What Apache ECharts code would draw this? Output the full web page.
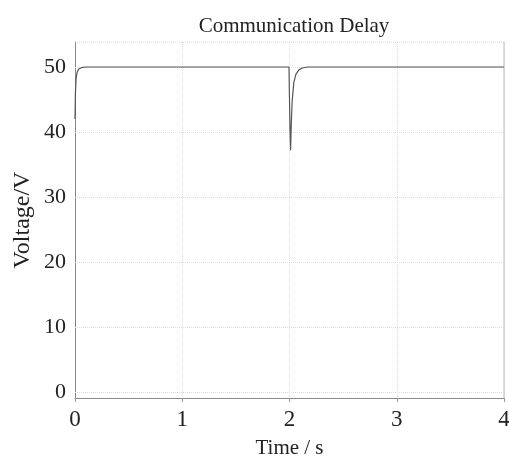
<!DOCTYPE html>
<html><head><meta charset="utf-8">
<script src="https://cdn.jsdelivr.net/npm/echarts@6/dist/echarts.min.js"></script>
<style>html,body{margin:0;padding:0;background:#fff}#c{width:509px;height:462px}</style>
</head><body><div id="c"></div>
<script>
const timeS = [0, 0.004, 0.01, 0.02, 0.035, 0.06, 0.1, 0.15, 1.995, 2.0, 2.004, 2.01, 2.016, 2.025, 2.04, 2.06, 2.09, 2.12, 2.17, 4.0];
const voltage = [42, 46, 48.2, 49.2, 49.7, 49.9, 50, 50, 50, 50, 41, 37.2, 41, 44.8, 47.6, 48.9, 49.6, 49.85, 50, 50];
const xTicks = [0, 1, 2, 3, 4];
const yTicks = [0, 10, 20, 30, 40, 50];
const FONT = 'Liberation Serif';
const chart = echarts.init(document.getElementById('c'));
chart.setOption({
  animation: false,
  title: {text: 'Communication Delay', left: 289, top: 11, textAlign: 'center',
    textStyle: {fontFamily: FONT, fontSize: 21, fontWeight: 'normal', color: '#222'}},
  grid: {left: 75, right: 5, top: 42, bottom: 64, outerBoundsMode: 'none', containLabel: false},
  xAxis: {type: 'value', min: 0, max: 4, interval: 1,
    name: 'Time / s', nameLocation: 'middle', nameGap: 40,
    nameTextStyle: {fontFamily: FONT, fontSize: 21, color: '#222'},
    axisLine: {show: true, onZero: false, lineStyle: {color: '#888', width: 1}},
    axisTick: {show: true, length: 4, lineStyle: {color: '#999'}},
    axisLabel: {fontFamily: FONT, fontSize: 23, color: '#222', margin: 10,
      formatter: v => xTicks.includes(v) ? String(v) : ''},
    splitLine: {show: true, lineStyle: {color: '#ddd', type: 'dotted'}}},
  yAxis: {type: 'value', min: -0.92, max: 53.85,
    name: 'Voltage/V', nameLocation: 'middle', nameGap: 40,
    nameTextStyle: {fontFamily: FONT, fontSize: 24, color: '#222'},
    axisLine: {show: true, lineStyle: {color: '#888', width: 1}},
    axisTick: {show: false},
    axisLabel: {show: false},
    splitLine: {show: false}},
  series: [
    {type: 'line', data: timeS.map((t, i) => [t, voltage[i]]), showSymbol: false,
     lineStyle: {color: '#555', width: 1.2}, z: 5,
     markLine: {silent: true, symbol: 'none', animation: false,
       label: {show: true, position: 'start', formatter: p => String(p.value),
         fontFamily: FONT, fontSize: 22, color: '#222', distance: 9},
       lineStyle: {color: '#ddd', type: 'dotted', width: 1},
       data: yTicks.map(v => ({yAxis: v}))}},
    {type: 'line', data: [[0, 53.85], [4, 53.85]], showSymbol: false, silent: true,
     lineStyle: {color: '#ccc', type: 'dotted', width: 1}},
    {type: 'line', data: [[4, -0.92], [4, 53.85]], showSymbol: false, silent: true,
     lineStyle: {color: '#bbb', width: 1}},
    {type: 'line', data: yTicks.map(v => [0, v]), showSymbol: false, silent: true,
     lineStyle: {width: 0}, symbol: 'none'}
  ]
});
</script></body></html>
